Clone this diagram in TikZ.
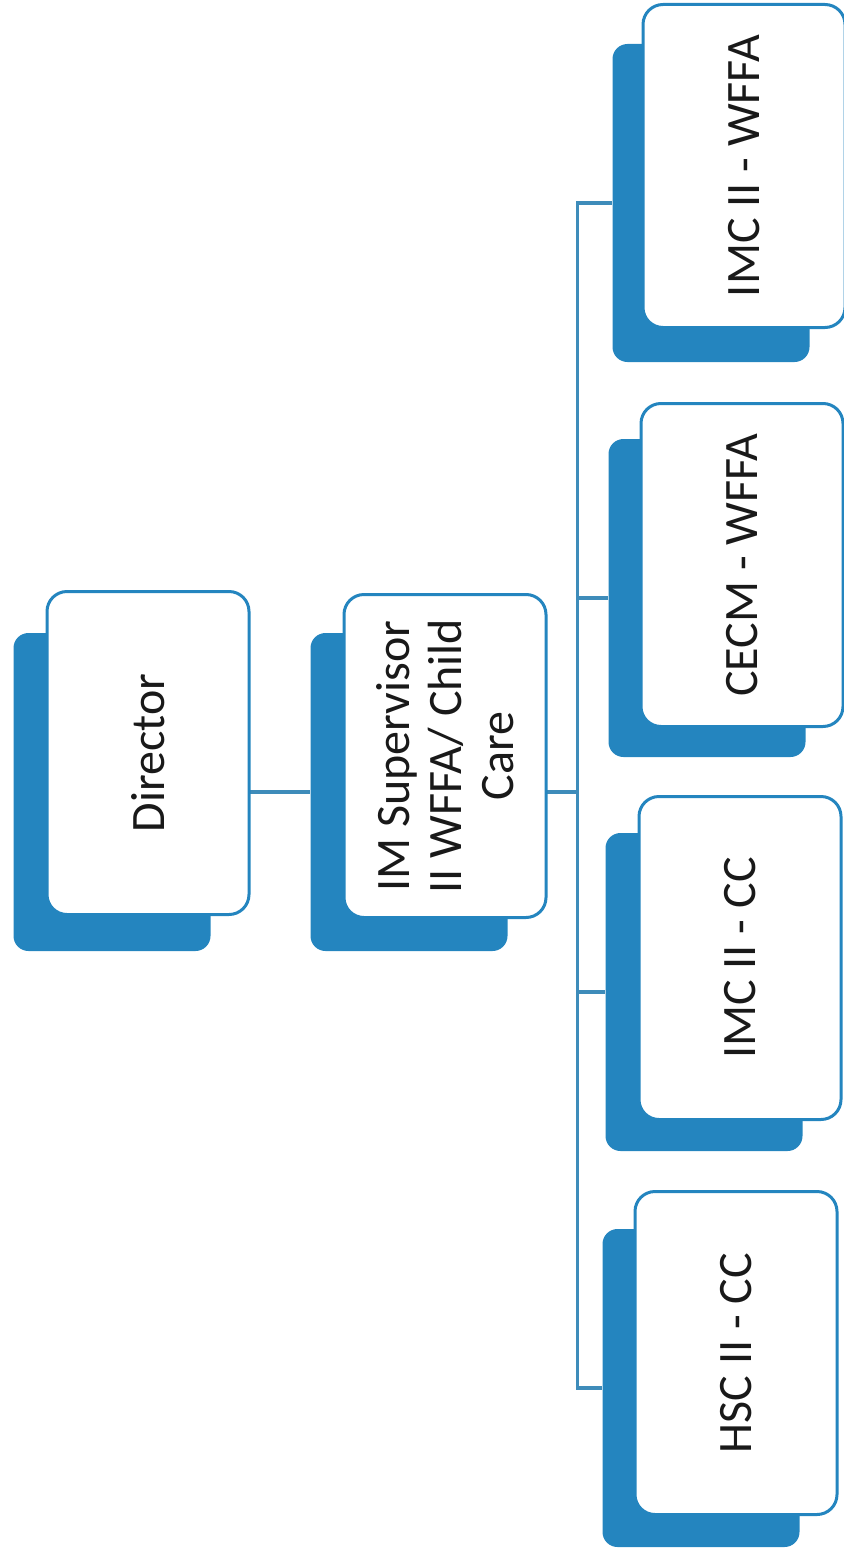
\documentclass[tikz,border=0pt]{standalone}
\usepackage{fontspec}
\setmainfont{Carlito}
\usetikzlibrary{positioning,calc}
\definecolor{lapkek}{RGB}{36,133,191}
\definecolor{vonalkek}{RGB}{62,140,186}
\tikzset{
  hat/.style={rectangle,rounded corners=15pt,fill=lapkek,draw=none,
    minimum width=197pt,minimum height=318pt,inner sep=0pt},
  lap/.style={rectangle,rounded corners=20pt,fill=white,draw=lapkek,
    line width=3pt,rotate=90,minimum width=323pt,minimum height=202pt,
    align=center,text=black!90,inner sep=4pt},
  kot/.style={draw=vonalkek,line width=3.2pt},
}
\begin{document}
\begin{tikzpicture}[x=1pt,y=-1pt,font=\fontsize{48}{52}\selectfont]
  \useasboundingbox (0,0) rectangle (843,1552);
  % hatso lapok
  \node[hat] (dirH) at (112,792) {};
  \node[hat] (supH) at (409,792) {};
  \node[hat] (wf1H) at (711,203) {};
  \node[hat] (wf2H) at (707,598) {};
  \node[hat] (cc1H) at (704,992) {};
  \node[hat] (cc2H) at (701,1388) {};
  % vonalak
  \coordinate (gyujto) at ($(supH.east)+(70,0)$);
  \draw[kot] (dirH.east) -- (supH.west);
  \draw[kot] (supH.east) -- (gyujto);
  \foreach \b in {wf1H,wf2H,cc1H,cc2H} \draw[kot] (gyujto) |- (\b.west);
  % elso lapok
  \node[lap] (dir) at (148,753) {Director};
  \node[lap] (sup) at (445,756) {IM Supervisor\\II WFFA/ Child\\Care};
  \node[lap] (wf1) at (744,166) {IMC II - WFFA};
  \node[lap] (wf2) at (742,565) {CECM - WFFA};
  \node[lap] (cc1) at (740,958) {IMC II - CC};
  \node[lap] (cc2) at (736,1353) {HSC II - CC};
\end{tikzpicture}
\end{document}
